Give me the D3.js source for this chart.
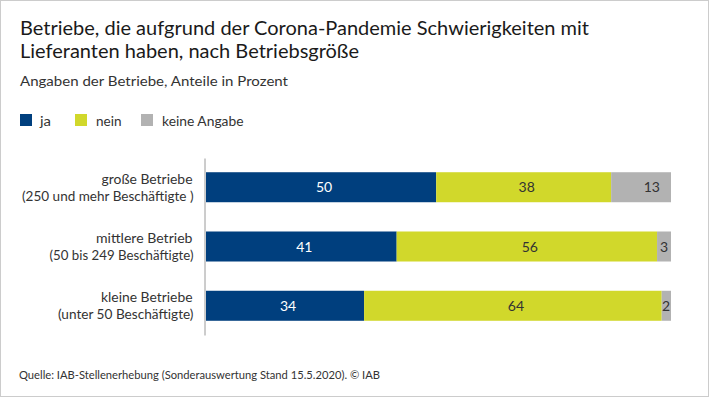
<!DOCTYPE html>
<html><head><meta charset="utf-8">
<script src="https://cdn.jsdelivr.net/npm/d3@7"></script>
<style>
html,body{margin:0;padding:0;background:#fff;}
svg{display:block;font-family:Lato,"Open Sans",sans-serif;}
</style></head>
<body>
<svg id="chart" width="710" height="398"></svg>
<script>
// ---- data ----
const categories = ["große Betriebe", "mittlere Betrieb", "kleine Betriebe"];
const categorySub = ["(250 und mehr Beschäftigte )", "(50 bis 249 Beschäftigte)", "(unter 50 Beschäftigte)"];
const seriesNames = ["ja", "nein", "keine Angabe"];
const ja = [50, 41, 34];
const nein = [38, 56, 64];
const keineAngabe = [13, 3, 2];
const colors = ["#003f7e", "#d1d82b", "#b2b2b2"];
const labelColors = ["#ffffff", "#333333", "#333333"];
const title = ["Betriebe, die aufgrund der Corona-Pandemie Schwierigkeiten mit", "Lieferanten haben, nach Betriebsgröße"];
const subtitle = "Angaben der Betriebe, Anteile in Prozent";
const source = "Quelle: IAB-Stellenerhebung (Sonderauswertung Stand 15.5.2020). © IAB";

const rows = categories.map((c, i) => ({cat: c, ja: ja[i], nein: nein[i], keine: keineAngabe[i]}));
const keys = ["ja", "nein", "keine"];

const svg = d3.select("#chart");

// frame
svg.append("rect").attr("x", 0.5).attr("y", 0.5).attr("width", 708).attr("height", 396)
  .attr("fill", "#fff").attr("stroke", "#cccccc");

function fit(sel, w) {
  sel.attr("textLength", w).attr("lengthAdjust", "spacingAndGlyphs");
}

// title
svg.append("text").attr("x", 20).attr("y", 35).attr("font-size", 19.5).attr("fill", "#1a1a1a")
  .text(title[0]).call(fit, 569);
svg.append("text").attr("x", 20).attr("y", 57.5).attr("font-size", 19.5).attr("fill", "#1a1a1a")
  .text(title[1]).call(fit, 339);
svg.append("text").attr("x", 20).attr("y", 86).attr("font-size", 13.5).attr("fill", "#333")
  .text(subtitle).call(fit, 268);

// legend
const legendX = [20, 75, 141];
const legendTX = [40, 96, 162];
const legendW = [11, 25.5, 81.5];
const lg = svg.append("g");
seriesNames.forEach((n, i) => {
  lg.append("rect").attr("x", legendX[i]).attr("y", 114).attr("width", 12).attr("height", 12).attr("fill", colors[i]);
  lg.append("text").attr("x", legendTX[i]).attr("y", 125.5).attr("font-size", 13.5).attr("fill", "#333")
    .text(n).call(fit, legendW[i]);
});

// scales
const x = d3.scaleLinear().domain([0, 1]).range([206, 671]);
const y = d3.scaleBand().domain(categories).range([158, 335]).paddingInner(0.4937).paddingOuter(0.24);

const stack = d3.stack().keys(keys).offset(d3.stackOffsetExpand);
const series = stack(rows);

// axis line
svg.append("g").attr("transform", "translate(204.5,0)")
  .call(d3.axisLeft(y).tickSize(0).tickSizeOuter(0).tickFormat(""))
  .call(g => g.select(".domain").attr("stroke", "#9a9a9a"));

// bars
series.forEach((s, si) => {
  const g = svg.append("g");
  g.selectAll("rect").data(s).join("rect")
    .attr("x", d => x(d[0]))
    .attr("width", d => x(d[1]) - x(d[0]))
    .attr("y", d => y(d.data.cat))
    .attr("height", y.bandwidth())
    .attr("fill", colors[si]);
  g.selectAll("text").data(s).join("text")
    .attr("font-size", 14)
    .attr("fill", labelColors[si])
    .attr("y", d => y(d.data.cat) + y.bandwidth() / 2 + 5)
    .text(d => d.data[keys[si]])
    .each(function(d) {
      const t = d3.select(this);
      if (si === 2) {
        const w = this.getComputedTextLength();
        const seg = x(d[1]) - x(d[0]);
        const pad = Math.max(1, Math.min(11, (seg - w) / 2));
        t.attr("text-anchor", "end").attr("x", x(d[1]) - pad);
      } else {
        t.attr("text-anchor", "middle").attr("x", (x(d[0]) + x(d[1])) / 2 + 3);
      }
    });
});

// category labels
const catW = [91, 96.5, 91.5];
const subW = [171.5, 144, 135.5];
const cl = svg.append("g").attr("font-size", 14).attr("fill", "#333").attr("text-anchor", "end");
categories.forEach((c, i) => {
  const cy = y(c) + y.bandwidth() / 2;
  cl.append("text").attr("x", 192.5).attr("y", cy - 3.5).text(c).call(fit, catW[i]);
  cl.append("text").attr("x", 193.5).attr("y", cy + 13.5).text(categorySub[i]).call(fit, subW[i]);
});

// source
svg.append("text").attr("x", 19).attr("y", 379).attr("font-size", 12).attr("fill", "#333")
  .text(source).call(fit, 361);
</script>
</body></html>
